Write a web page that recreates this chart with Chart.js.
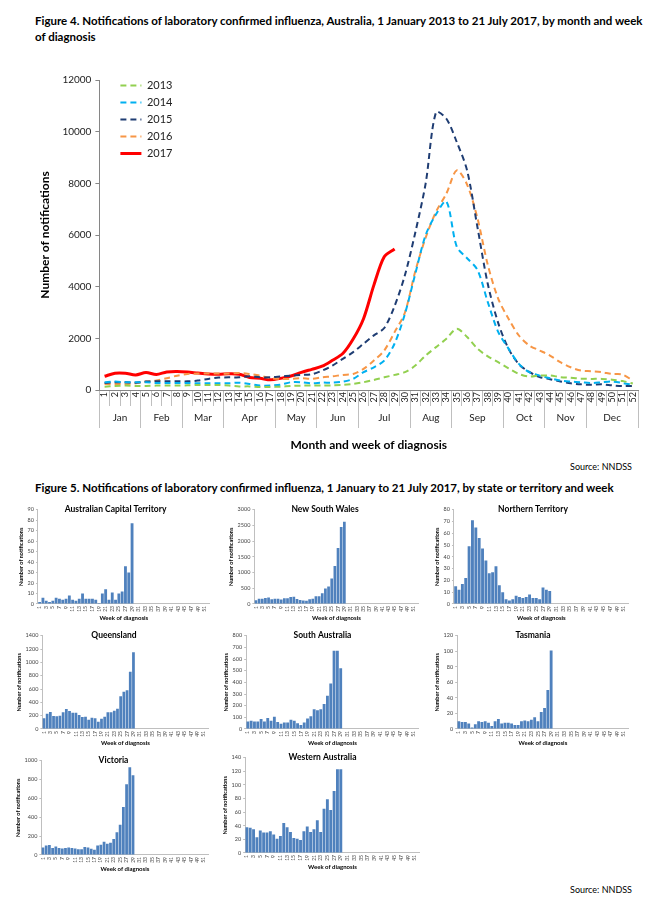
<!DOCTYPE html>
<html>
<head>
<meta charset="utf-8">
<title>Influenza notifications</title>
<script src="https://cdn.jsdelivr.net/npm/chart.js@4.4.1/dist/chart.umd.min.js"></script>
<style>
    body { margin: 0; background: #fff; font-family: Lato, "Open Sans", sans-serif; color: #000; }
    .fig { position: absolute; left: 35px; font-weight: bold; font-size: 11.5px; line-height: 16px; }
    .box { position: absolute; }
    .src { position: absolute; left: 540px; width: 92px; text-align: right; font-size: 9px; }
</style>
</head>
<body>
<div class="fig" style="top:13px;">Figure 4. Notifications of laboratory confirmed influenza, Australia, 1 January 2013 to 21 July 2017, by month and week<br>of diagnosis</div>
<div class="box" style="left:38px;top:70px;width:602px;height:384px;"><canvas id="graficoNacional"></canvas></div>
<div class="src" style="top:461px;">Source: NNDSS</div>

<div class="fig" style="top:480px;">Figure 5. Notifications of laboratory confirmed influenza, 1 January to 21 July 2017, by state or territory and week</div>
<div class="box" style="left:17px;top:503px;width:199px;height:119px;"><canvas id="act"></canvas></div>
<div class="box" style="left:227px;top:503px;width:198px;height:119px;"><canvas id="nsw"></canvas></div>
<div class="box" style="left:433px;top:503px;width:202px;height:119px;"><canvas id="nt"></canvas></div>
<div class="box" style="left:15px;top:629px;width:200px;height:118px;"><canvas id="qld"></canvas></div>
<div class="box" style="left:222px;top:629px;width:203px;height:118px;"><canvas id="sa"></canvas></div>
<div class="box" style="left:433px;top:629px;width:202px;height:118px;"><canvas id="tas"></canvas></div>
<div class="box" style="left:14px;top:754px;width:201px;height:119px;"><canvas id="vic"></canvas></div>
<div class="box" style="left:221px;top:751px;width:205px;height:120px;"><canvas id="wa"></canvas></div>
<div class="src" style="top:884px;">Source: NNDSS</div>

<script>
var weekLabels = ['1', '2', '3', '4', '5', '6', '7', '8', '9', '10', '11', '12', '13', '14', '15', '16', '17', '18',
    '19', '20', '21', '22', '23', '24', '25', '26', '27', '28', '29', '30', '31', '32', '33', '34', '35', '36',
    '37', '38', '39', '40', '41', '42', '43', '44', '45', '46', '47', '48', '49', '50', '51', '52'];
var monthNames = ['Jan', 'Feb', 'Mar', 'Apr', 'May', 'Jun', 'Jul', 'Aug', 'Sep', 'Oct', 'Nov', 'Dec'];
var weeksPerMonth = [4, 4, 4, 5, 4, 4, 5, 4, 5, 4, 4, 5];

// national weekly notifications, one array per year
var flu2013 = [130, 155, 170, 155, 155, 170, 170, 170, 180, 195, 195, 195, 170, 140, 140, 115, 115, 130, 155, 170,
    170, 170, 180, 195, 235, 300, 390, 490, 585, 690, 945, 1335, 1660, 1985, 2370, 2050, 1600, 1300, 1075, 840,
    620, 520, 560, 560, 500, 470, 440, 430, 430, 400, 350, 250];
var flu2014 = [300, 325, 300, 300, 300, 270, 270, 270, 270, 260, 260, 260, 260, 285, 235, 170, 170, 210, 300, 300,
    260, 285, 285, 325, 430, 690, 880, 1140, 1800, 2950, 4500, 6000, 6800, 7300, 5550, 5100, 4650, 3400, 2250, 1600,
    1010, 690, 555, 455, 365, 325, 300, 270, 300, 325, 270, 195];
var flu2015 = [270, 300, 300, 285, 325, 335, 335, 335, 335, 365, 430, 480, 490, 490, 530, 490, 490, 520, 555, 585,
    610, 750, 945, 1205, 1465, 1790, 2115, 2400, 3250, 4450, 6100, 8000, 10750, 10500, 9600, 8500, 6300, 4100, 2600, 1600,
    1000, 700, 500, 420, 330, 260, 220, 200, 220, 180, 150, 160];
var flu2016 = [235, 235, 235, 260, 325, 365, 455, 555, 620, 635, 635, 635, 635, 660, 620, 555, 455, 430, 430, 455,
    430, 490, 530, 585, 620, 815, 1140, 1530, 2240, 3000, 4600, 5900, 6900, 7600, 8500, 7950, 6650, 4840, 3540, 2760,
    2110, 1725, 1530, 1335, 1075, 880, 750, 725, 690, 620, 600, 365];
var flu2017 = [530, 650, 650, 585, 675, 600, 700, 715, 695, 655, 620, 610, 625, 610, 485, 455, 395, 450, 540, 680,
    800, 920, 1150, 1410, 1970, 2760, 4060, 5160, 5460];

// 2017 weekly notifications by state or territory
var actWeekly = [2, 6, 3, 2, 3, 6, 5, 4, 5, 8, 4, 3, 5, 10, 5, 5, 5, 4, 1, 10, 14, 4, 11, 4, 10, 12, 36, 30, 77];
var nswWeekly = [120, 170, 170, 190, 210, 150, 170, 170, 140, 180, 180, 220, 230, 160, 130, 110, 100, 150, 170, 250,
    250, 340, 490, 560, 810, 1210, 1780, 2450, 2620];
var ntWeekly = [15, 12, 17, 22, 49, 71, 65, 56, 47, 37, 26, 27, 32, 16, 10, 4, 3, 4, 7, 6, 5, 6, 8, 5, 5, 4, 14, 12, 11];
var qldWeekly = [160, 230, 255, 195, 190, 200, 250, 300, 270, 245, 245, 210, 180, 185, 140, 170, 160, 110, 155, 185,
    250, 250, 275, 305, 490, 560, 580, 860, 1150];
var saWeekly = [65, 70, 65, 65, 85, 65, 95, 70, 105, 60, 45, 55, 55, 80, 70, 50, 35, 55, 90, 110, 170, 160, 170, 215,
    285, 390, 670, 670, 520];
var tasWeekly = [10, 9, 9, 7, 2, 6, 10, 9, 10, 8, 4, 10, 13, 7, 8, 8, 7, 5, 5, 10, 11, 10, 12, 15, 10, 22, 27, 50, 101];
var vicWeekly = [80, 100, 105, 75, 90, 75, 70, 75, 80, 75, 70, 60, 60, 85, 80, 65, 55, 100, 110, 140, 120, 130, 170,
    240, 320, 510, 750, 930, 845];
var waWeekly = [38, 37, 35, 23, 33, 30, 30, 32, 27, 21, 25, 44, 38, 31, 22, 21, 19, 32, 39, 31, 35, 48, 31, 65, 79, 63,
    91, 123, 123];

Chart.defaults.font.family = 'Lato, "Open Sans", sans-serif';
Chart.defaults.color = '#222';

// plain numbers on the value axes (12000, not 12,000)
function sinComas(value) {
    return String(value);
}

function serie(label, data, color, dash, width) {
    return {
        label: label,
        data: data,
        borderColor: color,
        backgroundColor: color,
        borderWidth: width,
        borderDash: dash,
        pointRadius: 0,
        tension: 0.3,
        fill: false
    };
}

// month group ticks: edges carry the separator lines, centres carry the names
function monthTicks() {
    var ticks = [{ value: -0.5, name: '' }];
    var inicio = -0.5;
    weeksPerMonth.forEach(function (n, i) {
        ticks.push({ value: inicio + n / 2, name: monthNames[i] });
        inicio += n;
        ticks.push({ value: inicio, name: '' });
    });
    return ticks;
}

// legend samples keep the dash and width of each line
function etiquetasLeyenda(chart) {
    var items = Chart.defaults.plugins.legend.labels.generateLabels(chart);
    return items.map(function (item) {
        var ds = chart.data.datasets[item.datasetIndex];
        item.lineDash = ds.borderDash;
        item.lineWidth = ds.borderWidth;
        item.strokeStyle = ds.borderColor;
        return item;
    });
}

var moverLeyenda = {
    id: 'moverLeyenda',
    afterLayout: function (chart) {
        chart.legend.left += 15;
        chart.legend.top += 4;
    }
};

new Chart(document.getElementById('graficoNacional'), {
    type: 'line',
    data: {
        labels: weekLabels,
        datasets: [
            serie('2013', flu2013, '#92D050', [6, 4], 2),
            serie('2014', flu2014, '#00B0F0', [6, 4], 2),
            serie('2015', flu2015, '#1F3D73', [6, 4], 2),
            serie('2016', flu2016, '#F79646', [6, 4], 2),
            serie('2017', flu2017, '#FF0000', [], 3)
        ]
    },
    options: {
        responsive: true,
        maintainAspectRatio: false,
        animation: false,
        layout: { padding: { top: 6, right: 2 } },
        plugins: {
            legend: {
                position: 'chartArea',
                align: 'start',
                labels: {
                    usePointStyle: true,
                    pointStyle: 'line',
                    pointStyleWidth: 21,
                    padding: 6,
                    font: { size: 11 },
                    color: '#222',
                    generateLabels: etiquetasLeyenda
                }
            },
            tooltip: { enabled: false }
        },
        scales: {
            x: {
                type: 'category',
                weight: 0,
                offset: true,
                grid: { offset: true, drawOnChartArea: false, tickLength: 16, color: '#bfbfbf' },
                border: { color: '#868686' },
                ticks: { autoSkip: false, minRotation: 90, maxRotation: 90, padding: -14, font: { size: 9 } },
                afterFit: function (scale) { scale.height = 16; }
            },
            meses: {
                type: 'linear',
                position: 'bottom',
                weight: 1,
                min: -0.5,
                max: 51.5,
                afterBuildTicks: function (scale) { scale.ticks = monthTicks(); },
                grid: {
                    drawOnChartArea: false,
                    tickLength: 22,
                    color: function (c) { return c.tick && c.tick.name ? 'rgba(0,0,0,0)' : '#bfbfbf'; }
                },
                border: { display: false },
                ticks: {
                    autoSkip: false,
                    maxRotation: 0,
                    padding: -16,
                    font: { size: 10 },
                    callback: function (value, index, ticks) { return ticks[index].name || ''; }
                },
                title: {
                    display: true,
                    text: 'Month and week of diagnosis',
                    font: { size: 12, weight: 'bold' },
                    color: '#000',
                    padding: { top: 10, bottom: 2 }
                },
                afterFit: function (scale) { scale.height = 48; }
            },
            y: {
                min: 0,
                max: 12000,
                ticks: { stepSize: 2000, font: { size: 10 }, padding: 4, callback: sinComas },
                grid: { drawOnChartArea: false, tickLength: 4, color: '#868686' },
                border: { color: '#868686' },
                title: {
                    display: true,
                    text: 'Number of notifications',
                    font: { size: 12, weight: 'bold' },
                    color: '#000',
                    padding: { top: 0, bottom: 6 }
                }
            }
        }
    },
    plugins: [moverLeyenda]
});

function graficoEstado(id, nombre, valores, paso, maximo) {
    new Chart(document.getElementById(id), {
        type: 'bar',
        data: {
            labels: weekLabels,
            datasets: [{
                label: nombre,
                data: valores,
                backgroundColor: '#4F81BD',
                borderWidth: 0,
                categoryPercentage: 1,
                barPercentage: 0.86
            }]
        },
        options: {
            responsive: true,
            maintainAspectRatio: false,
            animation: false,
            layout: { padding: { right: 2 } },
            plugins: {
                legend: { display: false },
                tooltip: { enabled: false },
                title: {
                    display: true,
                    text: nombre,
                    font: { size: 8.5, weight: 'bold' },
                    color: '#000',
                    padding: { top: 1, bottom: -4.5 }
                }
            },
            scales: {
                x: {
                    grid: { drawOnChartArea: false, drawTicks: false },
                    border: { color: '#bfbfbf' },
                    ticks: {
                        autoSkip: false,
                        minRotation: 90,
                        maxRotation: 90,
                        padding: 2,
                        font: { size: 5 },
                        color: '#444',
                        callback: function (v, i) { return i % 2 === 0 ? this.getLabelForValue(v) : ''; }
                    },
                    title: {
                        display: true,
                        text: 'Week of diagnosis',
                        font: { size: 6, weight: 'bold' },
                        color: '#000',
                        padding: { top: 1, bottom: 0 }
                    }
                },
                y: {
                    min: 0,
                    max: maximo,
                    ticks: { stepSize: paso, font: { size: 5.5 }, color: '#444', padding: 2, callback: sinComas },
                    grid: { drawOnChartArea: false, tickLength: 2, color: '#bfbfbf' },
                    border: { color: '#bfbfbf' },
                    title: {
                        display: true,
                        text: 'Number of notifications',
                        font: { size: 5.5, weight: 'bold' },
                        color: '#000',
                        padding: 1
                    }
                }
            }
        }
    });
}

graficoEstado('act', 'Australian Capital Territory', actWeekly, 10, 90);
graficoEstado('nsw', 'New South Wales', nswWeekly, 500, 3000);
graficoEstado('nt', 'Northern Territory', ntWeekly, 10, 80);
graficoEstado('qld', 'Queensland', qldWeekly, 200, 1400);
graficoEstado('sa', 'South Australia', saWeekly, 100, 800);
graficoEstado('tas', 'Tasmania', tasWeekly, 20, 120);
graficoEstado('vic', 'Victoria', vicWeekly, 100, 1000);
graficoEstado('wa', 'Western Australia', waWeekly, 20, 140);
</script>
</body>
</html>
